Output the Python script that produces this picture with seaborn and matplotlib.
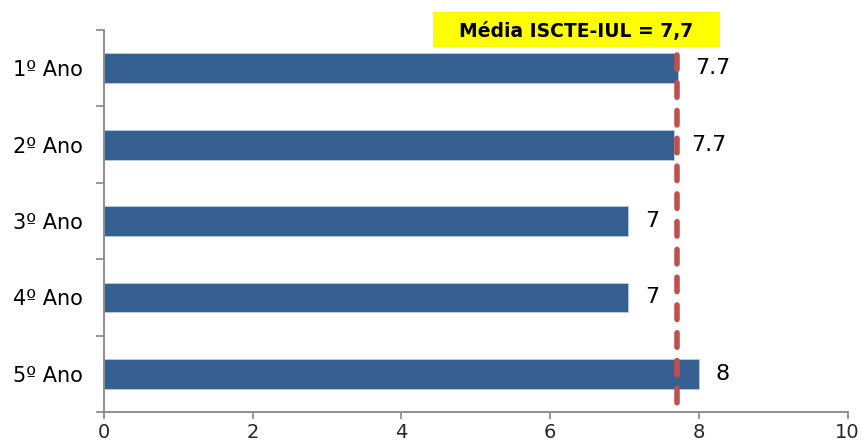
import matplotlib
matplotlib.use("Agg")
import matplotlib.pyplot as plt
from matplotlib.patches import Rectangle
from matplotlib.ticker import FixedLocator, NullFormatter
import pandas as pd
import seaborn as sns

years = ["1º Ano", "2º Ano", "3º Ano", "4º Ano", "5º Ano"]
scores = [7.72, 7.67, 7.05, 7.05, 8.0]
score_labels = ["7.7", "7.7", "7", "7", "8"]
mean_score = 7.7
mean_text = "Média ISCTE-IUL = 7,7"

BAR_COLOR = "#376092"
LINE_COLOR = "#C0504D"
AXIS_GRAY = "#868686"

sns.set_theme(style="white")
plt.rcParams["font.family"] = ["DejaVu Sans"]

df = pd.DataFrame({"ano": years, "nota": scores})

fig = plt.figure(figsize=(8.61, 4.46), dpi=100)
ax = fig.add_axes([0.1208, 0.0762, 0.8637, 0.8565])

sns.barplot(data=df, x="nota", y="ano", orient="h", color=BAR_COLOR,
            saturation=1, width=0.39, edgecolor="#B9CDE5", linewidth=0.6, ax=ax)

ax.set_xlim(0, 10)
ax.set_ylim(4.5, -0.5)
ax.set_xticks(range(0, 11, 2))
ax.set_xlabel("")
ax.set_ylabel("")

# category ticks sit between the bars
ax.yaxis.set_minor_locator(FixedLocator([i - 0.5 for i in range(len(years) + 1)]))
ax.yaxis.set_minor_formatter(NullFormatter())
ax.tick_params(axis="y", which="major", length=0, labelsize=15, pad=15, colors="black")
ax.tick_params(axis="y", which="minor", length=6, width=1.2, color=AXIS_GRAY, left=True)
ax.tick_params(axis="x", which="major", length=5, width=1.2, color=AXIS_GRAY,
               labelsize=14, pad=3, bottom=True)

for side in ["top", "right"]:
    ax.spines[side].set_visible(False)
for side in ["left", "bottom"]:
    ax.spines[side].set_color(AXIS_GRAY)
    ax.spines[side].set_linewidth(1.3)

for i, (val, txt) in enumerate(zip(scores, score_labels)):
    ax.annotate(txt, xy=(val, i), xytext=(12, 0), textcoords="offset points",
                ha="left", va="center", fontsize=16, color="black")

# drawn top-down so the dash pattern starts at the top end
ax.axvline(mean_score, ymin=0.935, ymax=-0.005, color=LINE_COLOR, linewidth=4.0,
           linestyle=(0, (2.6, 2.4)), dash_capstyle="round", clip_on=False, zorder=5)

# yellow label box above the plot
fig.patches.append(Rectangle((433 / 861, 1 - 47 / 446), 287 / 861, 35 / 446,
                             transform=fig.transFigure, facecolor="#FFFF00",
                             edgecolor="none", zorder=6))
fig.text(576 / 861, 1 - 31 / 446, mean_text, ha="center", va="center",
         fontsize=13.5, fontweight="bold", color="black", zorder=7)

fig.savefig("out.png", dpi=100)
